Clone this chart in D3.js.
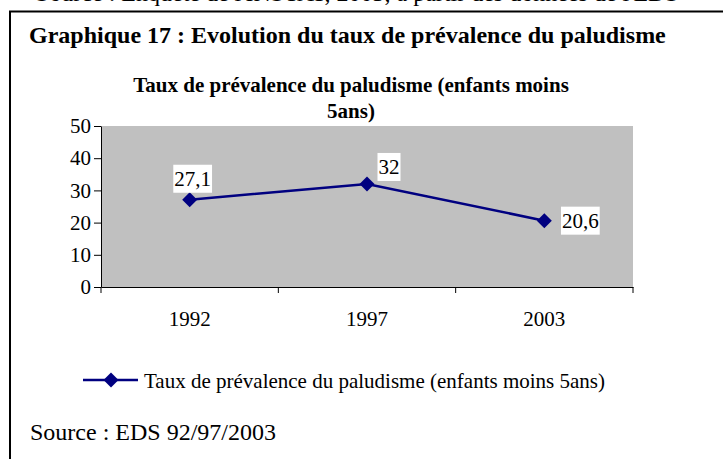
<!DOCTYPE html>
<html>
<head>
<meta charset="utf-8">
<script src="https://cdn.jsdelivr.net/npm/d3@7"></script>
<style>
  html, body { margin: 0; padding: 0; background: #fff; }
  svg { display: block; font-family: "Liberation Serif", "Times New Roman", serif; }
</style>
</head>
<body>
<div id="chart"></div>
<script>
const years = ["1992", "1997", "2003"];
const prevalence = [27.1, 32, 20.6];
const valueLabels = ["27,1", "32", "20,6"];
const yTicks = [0, 10, 20, 30, 40, 50];
// where Excel left each data label, relative to its point (dx centre, dy baseline)
const labelOffsets = [[3, -14], [22, -10], [36, 7]];

const seriesName = "Taux de prévalence du paludisme (enfants moins 5ans)";
const width = 723, height = 459;
const plot = { left: 101, right: 633, top: 126, bottom: 287 };
const navy = "#000080";

const svg = d3.select("#chart").append("svg")
  .attr("width", width)
  .attr("height", height);

// line of the page above the frame, cut by the top of the picture
svg.append("text")
  .attr("x", 36).attr("y", 1)
  .attr("font-size", 24)
  .text("Source : Enquête de l'INSTAT, 2003, à partir des données de l'EDS");

// frame (right and bottom edges run off the page)
svg.append("rect")
  .attr("x", 10).attr("y", 11.5)
  .attr("width", 800).attr("height", 600)
  .attr("fill", "none")
  .attr("stroke", "#000")
  .attr("stroke-width", 2);

svg.append("text")
  .attr("x", 29).attr("y", 43)
  .attr("font-size", 24)
  .attr("font-weight", "bold")
  .text("Graphique 17 : Evolution du taux de prévalence du paludisme");

const title = svg.append("text")
  .attr("text-anchor", "middle")
  .attr("font-size", 21)
  .attr("font-weight", "bold");
title.append("tspan").attr("x", 351).attr("y", 92).text("Taux de prévalence du paludisme (enfants moins");
title.append("tspan").attr("x", 351).attr("y", 118).text("5ans)");

const x = d3.scaleBand().domain(years).range([plot.left, plot.right]);
const y = d3.scaleLinear().domain([0, 50]).range([plot.bottom, plot.top]);

svg.append("rect")
  .attr("x", plot.left).attr("y", plot.top)
  .attr("width", plot.right - plot.left)
  .attr("height", plot.bottom - plot.top)
  .attr("fill", "#c0c0c0");

const yAxis = svg.append("g")
  .attr("transform", `translate(${plot.left},0)`)
  .call(d3.axisLeft(y).tickValues(yTicks).tickSize(7).tickPadding(3).tickSizeOuter(0));

const xAxis = svg.append("g")
  .attr("transform", `translate(0,${plot.bottom})`)
  .call(d3.axisBottom(x).tickSize(0).tickPadding(24).tickSizeOuter(0));

[yAxis, xAxis].forEach(a => {
  a.attr("font-family", null).attr("font-size", 21);
  a.selectAll("text").attr("fill", "#000");
  a.select(".domain").attr("stroke", "#000");
});

// category boundary ticks
const edges = years.map(d => x(d)).concat([x(years[years.length - 1]) + x.bandwidth()]);
svg.append("g").selectAll("line")
  .data(edges)
  .join("line")
  .attr("x1", d => d).attr("x2", d => d)
  .attr("y1", plot.bottom).attr("y2", plot.bottom + 6)
  .attr("stroke", "#000");

const points = years.map((d, i) => ({ year: d, value: prevalence[i], label: valueLabels[i], off: labelOffsets[i] }));
const cx = d => x(d.year) + x.bandwidth() / 2;

svg.append("path")
  .datum(points)
  .attr("fill", "none")
  .attr("stroke", navy)
  .attr("stroke-width", 2.5)
  .attr("d", d3.line().x(cx).y(d => y(d.value)));

const diamond = "M0,-7.5L7.5,0L0,7.5L-7.5,0Z";
svg.append("g").selectAll("path")
  .data(points)
  .join("path")
  .attr("d", diamond)
  .attr("fill", navy)
  .attr("transform", d => `translate(${cx(d)},${y(d.value)})`);

const labels = svg.append("g").selectAll("g")
  .data(points)
  .join("g");
labels.append("text")
  .attr("x", d => cx(d) + d.off[0])
  .attr("y", d => y(d.value) + d.off[1])
  .attr("text-anchor", "middle")
  .attr("font-size", 21)
  .text(d => d.label);
labels.each(function() {
  const g = d3.select(this);
  const b = g.select("text").node().getBBox();
  g.insert("rect", "text")
    .attr("x", b.x - 1).attr("y", b.y - 2)
    .attr("width", b.width + 2).attr("height", b.height + 4)
    .attr("fill", "#fff");
});

// legend
const legend = svg.append("g").attr("transform", "translate(83,380)");
legend.append("line")
  .attr("x1", 0).attr("x2", 55)
  .attr("stroke", navy).attr("stroke-width", 2.5);
legend.append("path")
  .attr("d", diamond)
  .attr("fill", navy)
  .attr("transform", "translate(28,0)");
legend.append("text")
  .attr("x", 61).attr("y", 8)
  .attr("font-size", 21)
  .text(seriesName);

svg.append("text")
  .attr("x", 30).attr("y", 440)
  .attr("font-size", 24)
  .text("Source : EDS 92/97/2003");
</script>
</body>
</html>
